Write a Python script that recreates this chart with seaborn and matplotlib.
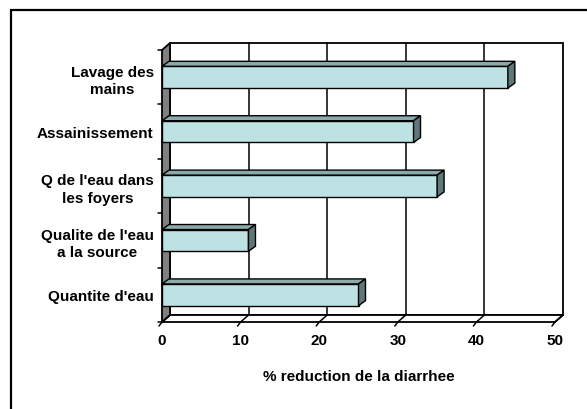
import matplotlib
matplotlib.use("Agg")
import matplotlib.pyplot as plt
import seaborn as sns
import pandas as pd
from matplotlib.patches import Polygon, Rectangle
from matplotlib.lines import Line2D
from matplotlib.transforms import IdentityTransform

# ---- data ----
categories = ["Lavage des\nmains", "Assainissement", "Q de l'eau dans\nles foyers",
              "Qualite de l'eau\na la source", "Quantite d'eau"]
values = [44, 32, 35, 11, 25]
xticks = [0, 10, 20, 30, 40, 50]
xlabel = "% reduction de la diarrhee"

df = pd.DataFrame({"cat": categories, "val": values})

# ---- style ----
FRONT = "#BEE2E4"
TOP = "#8CAAAB"
SIDE = "#5E7778"
WALL = "#808080"
FS = 11

sns.set_theme(style="white")
plt.rcParams["font.family"] = ["Liberation Sans", "DejaVu Sans"]

W, H = 587, 410
fig = plt.figure(figsize=(W / 100, H / 100), dpi=100)
fig.patch.set_facecolor("white")
ax = fig.add_axes([162 / W, (H - 323) / H, (555 - 162) / W, (323 - 51) / H])

sns.barplot(data=df, x="val", y="cat", orient="h", width=0.4, color=FRONT,
            saturation=1, edgecolor="black", linewidth=1.0, ax=ax)

n = len(categories)
ax.set_xlim(xticks[0], xticks[-1])
ax.set_ylim(n - 0.5, -0.5)
for s in ax.spines.values():
    s.set_visible(False)
ax.patch.set_alpha(0)
ax.set_xticks(xticks)
ax.set_xticklabels([str(v) for v in xticks], fontsize=FS, fontweight="bold")
ax.set_yticks(range(n))
ax.set_yticklabels(categories, fontsize=FS, fontweight="bold", ha="right",
                   multialignment="center", linespacing=1.3)
ax.tick_params(axis="x", length=0, pad=8, colors="black")
ax.tick_params(axis="y", length=0, pad=6, colors="black")
ax.set_xlabel(xlabel, fontsize=FS, fontweight="bold", labelpad=16, color="black")
ax.set_ylabel("")

ID = IdentityTransform()
WDX, WDY = 8, 7   # wall depth offset (px)
BDX, BDY = 7, 5   # bar depth offset (px)


def P(x, y, dx=0, dy=0):
    px, py = ax.transData.transform((x, y))
    return (px + dx, py + dy)


x0, x1 = xticks[0], xticks[-1]
ybot, ytop = n - 0.5, -0.5

# back wall
fig.add_artist(Polygon([P(x0, ybot, WDX, WDY), P(x1, ybot, WDX, WDY),
                        P(x1, ytop, WDX, WDY), P(x0, ytop, WDX, WDY)],
                       closed=True, facecolor="white", edgecolor="black",
                       linewidth=1.3, transform=ID, zorder=-3))
# gridlines on back wall
for v in xticks[1:-1]:
    a, b = P(v, ybot, WDX, WDY), P(v, ytop, WDX, WDY)
    fig.add_artist(Line2D([a[0], b[0]], [a[1], b[1]], color="black",
                          linewidth=1.1, transform=ID, zorder=-2))
# floor
fig.add_artist(Polygon([P(x0, ybot), P(x1, ybot), P(x1, ybot, WDX, WDY),
                        P(x0, ybot, WDX, WDY)], closed=True, facecolor="white",
                       edgecolor="black", linewidth=1.3, transform=ID, zorder=-2))
# floor lines + ticks
for v in xticks:
    a, b = P(v, ybot), P(v, ybot, WDX, WDY)
    fig.add_artist(Line2D([a[0], b[0]], [a[1], b[1]], color="black",
                          linewidth=1.1, transform=ID, zorder=-1))
    fig.add_artist(Line2D([a[0], a[0] - 3], [a[1], a[1] - 4], color="black",
                          linewidth=1.1, transform=ID, zorder=-1))
# left wall
fig.add_artist(Polygon([P(x0, ybot), P(x0, ytop), P(x0, ytop, WDX, WDY),
                        P(x0, ybot, WDX, WDY)], closed=True, facecolor=WALL,
                       edgecolor="black", linewidth=1.3, transform=ID, zorder=-1))
# left ticks at category boundaries
for k in range(n + 1):
    a = P(x0, k - 0.5)
    fig.add_artist(Line2D([a[0] - 4, a[0]], [a[1], a[1]], color="black",
                          linewidth=1.1, transform=ID, zorder=-1))

# 3D faces of bars
for p in ax.patches:
    bx, by, bw, bh = p.get_x(), p.get_y(), p.get_width(), p.get_height()
    yt = min(by, by + bh)  # visually top (axis inverted)
    yl = max(by, by + bh)
    tl, tr = P(bx, yt), P(bx + bw, yt)
    br = P(bx + bw, yl)
    fig.add_artist(Polygon([tl, tr, (tr[0] + BDX, tr[1] + BDY),
                            (tl[0] + BDX, tl[1] + BDY)], closed=True,
                           facecolor=TOP, edgecolor="black", linewidth=1.0,
                           transform=ID, zorder=2))
    fig.add_artist(Polygon([tr, br, (br[0] + BDX, br[1] + BDY),
                            (tr[0] + BDX, tr[1] + BDY)], closed=True,
                           facecolor=SIDE, edgecolor="black", linewidth=1.0,
                           transform=ID, zorder=2))

# outer border
fig.add_artist(Rectangle((11, -20), W + 30, H - 11 + 20, facecolor="none",
                         edgecolor="black", linewidth=1.6, transform=ID, zorder=5))

fig.savefig("out.png", dpi=100, facecolor="white")
